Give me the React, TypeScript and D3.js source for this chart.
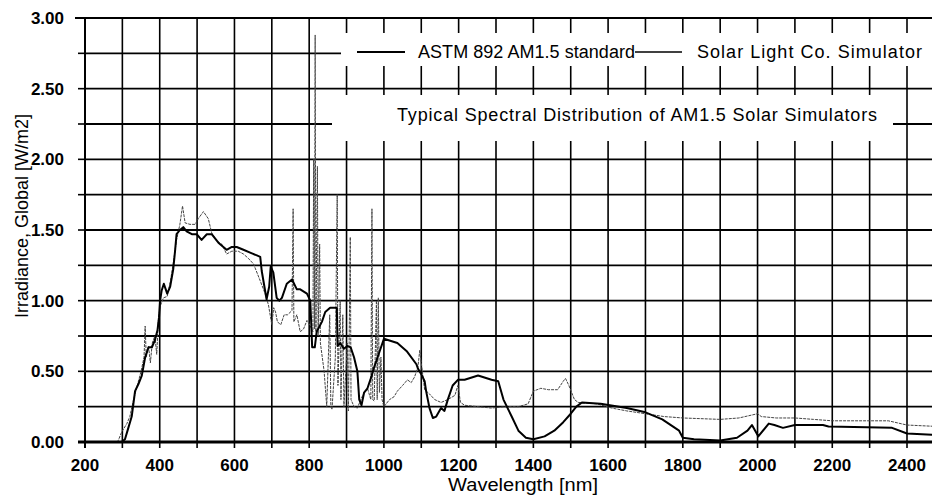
import React from 'react';
import * as d3 from 'd3';

const astmData: [number, number][] = [
  [280, 0], [298, 0], [307, 0.02], [316, 0.1], [325, 0.18], [334, 0.36], [343, 0.41], [352, 0.47],
  [361, 0.6], [370, 0.67], [379, 0.67], [387, 0.72], [394, 0.79], [398, 0.88], [401, 1.0], [405, 1.07],
  [411, 1.12], [420, 1.05], [428, 1.1], [436, 1.22], [441, 1.35], [445, 1.47], [454, 1.5], [463, 1.52],
  [472, 1.49], [486, 1.47], [499, 1.47], [512, 1.43], [526, 1.47], [539, 1.47], [557, 1.41], [579, 1.36],
  [593, 1.38], [606, 1.38], [624, 1.36], [642, 1.34], [660, 1.32], [669, 1.31], [673, 1.21], [686, 1.01],
  [693, 1.1], [697, 1.24], [704, 1.2], [713, 1.02], [720, 1.0], [727, 1.02], [740, 1.12], [754, 1.15],
  [767, 1.08], [776, 1.08], [794, 1.05], [803, 1.0], [808, 0.67], [815, 0.67], [820, 0.78], [834, 0.85],
  [843, 0.92], [856, 0.95], [874, 0.95], [876, 0.68], [883, 0.7], [893, 0.66], [902, 0.68], [911, 0.67],
  [920, 0.6], [929, 0.5], [934, 0.3], [940, 0.26], [947, 0.35], [956, 0.38], [965, 0.45], [974, 0.53],
  [987, 0.63], [1000, 0.73], [1036, 0.7], [1062, 0.64], [1087, 0.55], [1091, 0.52], [1100, 0.48], [1109, 0.43],
  [1113, 0.36], [1122, 0.24], [1131, 0.17], [1140, 0.18], [1153, 0.24], [1162, 0.22], [1171, 0.3], [1184, 0.4],
  [1198, 0.44], [1216, 0.44], [1252, 0.47], [1288, 0.44], [1306, 0.43], [1320, 0.3], [1342, 0.18], [1360, 0.08],
  [1380, 0.03], [1400, 0.02], [1430, 0.04], [1456, 0.08], [1480, 0.14], [1500, 0.2], [1515, 0.25], [1530, 0.28],
  [1580, 0.27], [1650, 0.24], [1700, 0.21], [1745, 0.16], [1790, 0.08], [1800, 0.03], [1830, 0.02], [1900, 0.01],
  [1945, 0.03], [1973, 0.08], [1985, 0.12], [2002, 0.04], [2030, 0.13], [2045, 0.12], [2068, 0.1], [2100, 0.12],
  [2175, 0.12], [2190, 0.11], [2360, 0.1], [2400, 0.06], [2480, 0.05],
];

const simData: [number, number][] = [
  [285, 0], [289, 0.01], [298, 0.07], [312, 0.13], [320, 0.18], [330, 0.3], [340, 0.4], [350, 0.5],
  [358, 0.6], [361, 0.82], [364, 0.6], [370, 0.68], [375, 0.56], [380, 0.7], [387, 0.75], [392, 0.62],
  [396, 0.85], [401, 0.96], [410, 1.02], [420, 1.03], [428, 1.13], [436, 1.26], [445, 1.43], [454, 1.54],
  [461, 1.67], [468, 1.55], [481, 1.54], [495, 1.54], [503, 1.58], [517, 1.63], [530, 1.58], [539, 1.48],
  [553, 1.42], [566, 1.4], [579, 1.33], [593, 1.35], [610, 1.35], [624, 1.33], [637, 1.3], [651, 1.26],
  [669, 1.14], [682, 1.05], [691, 0.97], [700, 0.83], [705, 0.95], [710, 0.92], [715, 0.85], [724, 0.83],
  [733, 0.9], [742, 0.9], [754, 0.93], [757, 1.65], [759, 0.85], [767, 0.9], [776, 0.78], [785, 0.8],
  [794, 0.86], [803, 0.82], [810, 0.78], [812, 2.0], [814, 0.8], [816, 2.88], [818, 0.78], [822, 1.95],
  [824, 0.75], [828, 1.4], [830, 0.7], [840, 0.5], [847, 0.25], [855, 0.9], [858, 0.25], [861, 0.23],
  [870, 0.6], [875, 1.75], [877, 0.4], [883, 1.0], [885, 0.3], [890, 0.9], [893, 0.25], [902, 0.7],
  [905, 0.22], [910, 1.45], [912, 0.3], [920, 0.25], [929, 0.24], [938, 0.3], [947, 0.35], [956, 0.38],
  [965, 0.3], [968, 1.65], [970, 0.3], [974, 0.29], [980, 1.0], [982, 0.3], [985, 1.02], [988, 0.35],
  [992, 0.6], [995, 0.3], [1000, 0.25], [1015, 0.3], [1027, 0.32], [1036, 0.36], [1050, 0.4], [1063, 0.44],
  [1073, 0.42], [1082, 0.46], [1091, 0.53], [1096, 0.65], [1100, 0.56], [1109, 0.37], [1122, 0.34], [1136, 0.3],
  [1153, 0.28], [1171, 0.3], [1190, 0.33], [1198, 0.4], [1205, 0.28], [1216, 0.26], [1252, 0.25], [1288, 0.24],
  [1324, 0.25], [1360, 0.25], [1386, 0.27], [1400, 0.36], [1420, 0.38], [1440, 0.37], [1465, 0.37], [1480, 0.43],
  [1486, 0.45], [1495, 0.4], [1510, 0.3], [1520, 0.28], [1570, 0.27], [1610, 0.24], [1650, 0.22], [1700, 0.2],
  [1750, 0.18], [1800, 0.17], [1900, 0.16], [1950, 0.17], [2000, 0.2], [2010, 0.18], [2050, 0.17], [2100, 0.17],
  [2150, 0.16], [2200, 0.15], [2300, 0.15], [2350, 0.15], [2400, 0.12], [2480, 0.11],
];

const xTickLabels = [200, 400, 600, 800, 1000, 1200, 1400, 1600, 1800, 2000, 2200, 2400];
const yTickLabels = [0, 0.5, 1, 1.5, 2, 2.5, 3];
const legendLabels = ['ASTM 892 AM1.5 standard', 'Solar Light Co. Simulator'];
const chartTitle = 'Typical Spectral Distribution of AM1.5 Solar Simulators';
const xTitle = 'Wavelength [nm]';
const yTitle = 'Irradiance, Global [W/m2]';

export default function App() {
  const W = 932;
  const H = 497;
  const left = 85;
  const right = 932;
  const top = 18;
  const bottom = 442;
  const x = d3.scaleLinear().domain([200, 2400]).range([left, 907]);
  const y = d3.scaleLinear().domain([0, 3]).range([bottom, top]);
  const line = d3
    .line<[number, number]>()
    .x((d) => x(d[0]))
    .y((d) => y(d[1]));
  const xGrid = d3.range(300, 2500, 100);
  const xTicks = d3.range(200, 2500, 100);
  const yGrid = d3.range(1, 12).map((i) => i * 0.25);
  const yTicks = d3.range(0, 13).map((i) => i * 0.25);
  const font = "'Liberation Sans', Arial, sans-serif";

  return (
    <svg
      width={W}
      height={H}
      style={{ position: 'absolute', left: 0, top: 0, background: '#fff' }}
      fontFamily={font}
    >
      <defs>
        <clipPath id="plotClip">
          <rect x={left} y={top - 2} width={right - left} height={bottom - top + 2} />
        </clipPath>
      </defs>
      <rect x={0} y={0} width={W} height={H} fill="#fff" />
      {/* grid */}
      <g stroke="#000" strokeWidth={1.6}>
        {xGrid.map((v) => (
          <line key={'gx' + v} x1={x(v)} x2={x(v)} y1={top} y2={bottom} />
        ))}
      </g>
      <g stroke="#000" strokeWidth={1.9}>
        {yGrid.map((v) => (
          <line key={'gy' + v} x1={left} x2={right} y1={y(v)} y2={y(v)} />
        ))}
      </g>
      {/* ticks */}
      <g stroke="#000" strokeWidth={1.6}>
        {yTicks.map((v) => (
          <line key={'ty' + v} x1={left - 7} x2={left} y1={y(v)} y2={y(v)} />
        ))}
        {xTicks.map((v) => (
          <line key={'tx' + v} x1={x(v)} x2={x(v)} y1={bottom} y2={bottom + 6} />
        ))}
      </g>
      {/* data */}
      <g clipPath="url(#plotClip)" fill="none">
        <path d={line(simData) || ''} stroke="#444" strokeWidth={1} strokeDasharray="3,1" />
        <path d={line(astmData) || ''} stroke="#000" strokeWidth={2} strokeLinejoin="round" />
      </g>
      {/* frame */}
      <line x1={left - 10} x2={right} y1={top} y2={top} stroke="#000" strokeWidth={2.2} />
      <line x1={left} x2={left} y1={top} y2={bottom + 6} stroke="#000" strokeWidth={2} />
      <line x1={left - 7} x2={right} y1={bottom} y2={bottom} stroke="#000" strokeWidth={3} />
      {/* legend */}
      <rect x={341} y={33} width={right - 341} height={33} fill="#fff" />
      <rect x={332} y={95} width={893 - 332} height={46} fill="#fff" />
      <line x1={357} x2={405} y1={52} y2={52} stroke="#000" strokeWidth={2} />
      <text x={418} y={58} fontSize={18} textLength={217} lengthAdjust="spacing">
        {legendLabels[0]}
      </text>
      <line x1={635} x2={682} y1={52} y2={52} stroke="#000" strokeWidth={1.3} />
      <text x={697} y={58} fontSize={18} textLength={225} lengthAdjust="spacing">
        {legendLabels[1]}
      </text>
      <text x={397} y={121} fontSize={18} textLength={480} lengthAdjust="spacing">
        {chartTitle}
      </text>
      {/* tick labels */}
      <g fontSize={17} fontWeight="bold" fill="#000">
        {yTickLabels.map((v) => (
          <text key={'ly' + v} x={64} y={y(v) + 6} textAnchor="end">
            {v.toFixed(2)}
          </text>
        ))}
        {xTickLabels.map((v) => (
          <text key={'lx' + v} x={x(v)} y={471} textAnchor="middle">
            {v}
          </text>
        ))}
      </g>
      <text x={523} y={491} fontSize={17.5} textAnchor="middle" textLength={150} lengthAdjust="spacingAndGlyphs">
        {xTitle}
      </text>
      <text
        transform={`translate(28, 216) rotate(-90)`}
        fontSize={18}
        textAnchor="middle"
      >
        {yTitle}
      </text>
    </svg>
  );
}
